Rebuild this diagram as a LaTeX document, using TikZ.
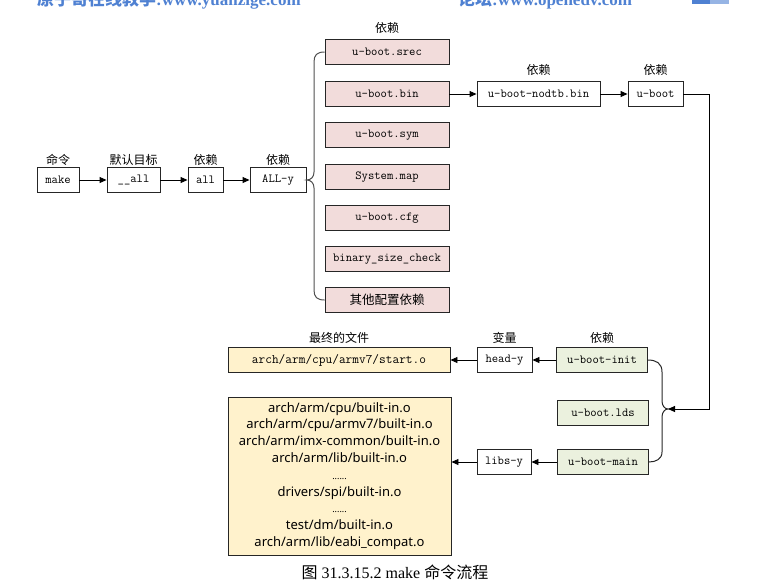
\documentclass[tikz,border=0pt]{standalone}
\usepackage{fontspec}
\setmainfont{Liberation Serif}
\newfontfamily\cjk{Noto Sans CJK SC}
\newfontfamily\mono{Latin Modern Mono}
\newfontfamily\sansf{Noto Sans}
\usetikzlibrary{arrows.meta}
\definecolor{pinkf}{RGB}{242,220,219}
\definecolor{greenf}{RGB}{235,241,222}
\definecolor{yellowf}{RGB}{255,242,204}
\definecolor{hdrblue}{RGB}{79,129,210}
\definecolor{hdrblue2}{RGB}{150,180,228}
\definecolor{bracegray}{RGB}{80,80,80}
\begin{document}
\begin{tikzpicture}[x=1pt,y=-1pt,
 box/.style={draw=black!85,line width=0.9pt,minimum height=25pt,inner sep=0pt,font=\mono\fontsize{12.3}{14}\selectfont},
 pinkbox/.style={box,fill=pinkf,minimum width=124pt},
 greenbox/.style={box,fill=greenf,minimum width=91pt},
 lbl/.style={font=\cjk\fontsize{12}{14}\selectfont,inner sep=0pt},
 arr/.style={line width=0.9pt,-{Triangle[length=7pt,width=6pt]}},
 bracel/.style={draw=bracegray,line width=1pt},
 hdr/.style={anchor=base west,text=hdrblue,inner sep=0pt,font=\bfseries\fontsize{17}{20}\selectfont}]
\useasboundingbox (0,0) rectangle (773,584);
\clip (0,0) rectangle (773,584);

% header (cut off at the top, as in the reference)
\node[hdr] (h1) at (37,5) {{\cjk 原子哥在线教学}:www.yuanzige.com};
\node[hdr] (h2) at (458,5) {{\cjk 论坛}:www.openedv.com};
\fill[hdrblue] (692,0) rectangle (710,4);
\fill[hdrblue2] (710,0) rectangle (729,4);

% left chain
\node[box,minimum width=42pt] (make) at (58,180) {make};
\node[box,minimum width=53pt] (all0) at (133.5,180) {\_\_all};
\node[box,minimum width=35pt] (all) at (205.5,180) {all};
\node[box,minimum width=56pt] (ally) at (278,180) {ALL-y};
\node[lbl] (lmake) at (58,160) {命令};
\node[lbl] (lall0) at (133.5,160) {默认目标};
\node[lbl] (lall) at (205.5,160) {依赖};
\node[lbl] (lally) at (278,160) {依赖};
\draw[arr] (make) -- (all0);
\draw[arr] (all0) -- (all);
\draw[arr] (all) -- (ally);

% pink stack
\node[lbl] (lpink) at (387,28) {依赖};
\node[pinkbox] (srec) at (387,52) {u-boot.srec};
\node[pinkbox] (bin) at (387,94) {u-boot.bin};
\node[pinkbox] (sym) at (387,135) {u-boot.sym};
\node[pinkbox] (map) at (387,177) {System.map};
\node[pinkbox] (cfg) at (387,218) {u-boot.cfg};
\node[pinkbox] (bsc) at (387,259) {binary\_size\_check};
\node[pinkbox,font=\cjk\fontsize{12.5}{14}\selectfont] (other) at (387,300) {其他配置依赖};
\draw[bracel] (srec.west) .. controls (317,52) and (314,55) .. (314,62) -- (314,172)
  .. controls (314,177) and (311,180) .. (ally.east)
  .. controls (311,180) and (314,183) .. (314,188) -- (314,290)
  .. controls (314,297) and (317,300) .. (other.west);

% top right
\node[box,minimum width=123pt] (nodtb) at (538.5,94) {u-boot-nodtb.bin};
\node[box,minimum width=55pt] (uboot) at (655.5,94) {u-boot};
\node[lbl] (lnodtb) at (538.5,70) {依赖};
\node[lbl] (luboot) at (655.5,70) {依赖};
\draw[arr] (bin) -- (nodtb);
\draw[arr] (nodtb) -- (uboot);

% lower part
\node[box,fill=yellowf,minimum width=222pt,font=\mono\fontsize{13}{14}\selectfont] (starto) at (339,360) {arch/arm/cpu/armv7/start.o};
\node[box,minimum width=55pt] (heady) at (504.5,360) {head-y};
\node[greenbox] (init) at (602,360) {u-boot-init};
\node[lbl] (lstart) at (339,338) {最终的文件};
\node[lbl] (lhead) at (504.5,338) {变量};
\node[lbl] (linit) at (602,338) {依赖};
\draw[arr] (init) -- (heady);
\draw[arr] (heady) -- (starto);

\node[greenbox] (lds) at (603,413) {u-boot.lds};
\node[greenbox] (umain) at (603,462) {u-boot-main};
\node[box,minimum width=54pt] (libsy) at (504,462) {libs-y};
\node[box,fill=yellowf,minimum width=223pt,minimum height=158pt,align=center,
  font=\sansf\fontsize{13}{16.8}\selectfont] (big) at (339.5,476) {arch/arm/cpu/built-in.o\\
arch/arm/cpu/armv7/built-in.o\\
arch/arm/imx-common/built-in.o\\
arch/arm/lib/built-in.o\\
{\fontsize{9}{16.8}\selectfont ......}\\
drivers/spi/built-in.o\\
{\fontsize{9}{16.8}\selectfont ......}\\
test/dm/built-in.o\\
arch/arm/lib/eabi\_compat.o};
\draw[arr] (umain) -- (libsy);
\draw[arr] (libsy.west) -- (libsy.west -| big.east);

% right brace and loop arrow
\coordinate (rtip) at (668,409);
\coordinate (rc1) at (709,94);
\coordinate (rc2) at (709,409);
\draw[bracel,draw=black!85] (init.east) .. controls (656,360) and (662,363) .. (662,372) -- (662,401)
  .. controls (662,406) and (665,409) .. (rtip)
  .. controls (665,409) and (662,412) .. (662,417) -- (662,452)
  .. controls (662,459) and (656,462) .. (umain.east);
\draw[arr] (uboot.east) -- (rc1) -- (rc2) -- (rtip);

% caption
\node[font=\fontsize{16}{18}\selectfont,inner sep=0pt] (cap) at (395,572) {{\cjk 图} 31.3.15.2 make {\cjk 命令流程}};
\end{tikzpicture}
\end{document}
